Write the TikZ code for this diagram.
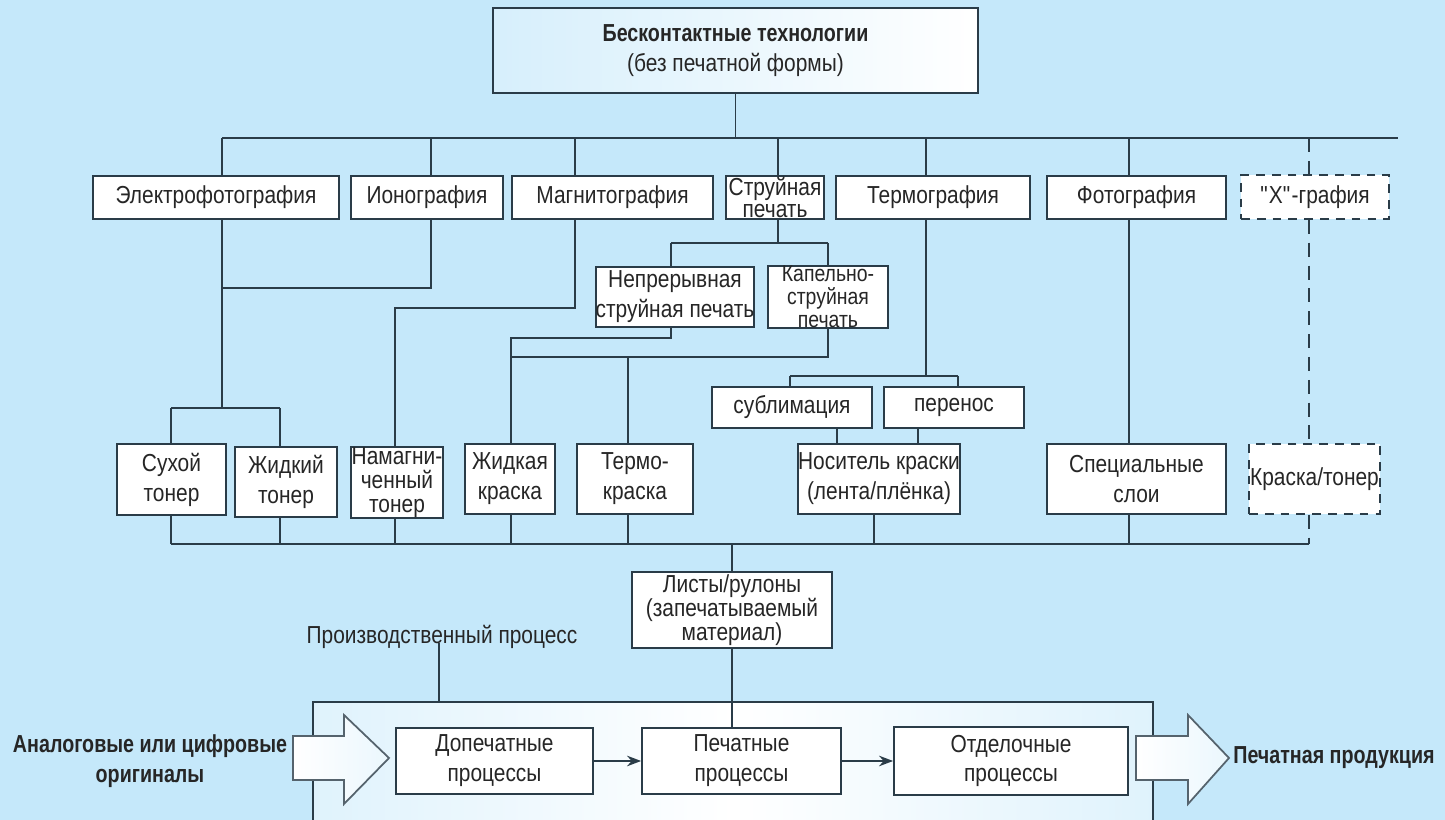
\documentclass[tikz,border=0pt]{standalone}
\usepackage{fontspec}
\setmainfont[FakeStretch=0.85,BoldFeatures={FakeStretch=0.8}]{Liberation Sans}
\usetikzlibrary{arrows.meta}
\definecolor{bg}{RGB}{197,232,250}
\definecolor{ln}{HTML}{2A3C48}
\definecolor{tx}{HTML}{262626}
\begin{document}
\begin{tikzpicture}[x=0.02cm,y=-0.02cm,
  wire/.style={draw=ln,line width=1pt},
  dwire/.style={wire,dash pattern=on 8pt off 5pt},
  box/.style={draw=ln,fill=white,line width=1pt,inner sep=0pt,align=center,text=tx,font=\fontsize{14}{17}\selectfont},
  dbox/.style={box,dash pattern=on 5pt off 4pt},
  wh/.style 2 args={minimum width=#1*0.02cm,minimum height=#2*0.02cm},
  lbl/.style={inner sep=0pt,align=center,text=tx,font=\fontsize{14}{17}\selectfont},
  blockarrow/.style={draw=ln!80,line width=1pt,left color=white,right color=bg!35!white}]
\useasboundingbox (0,0) rectangle (1445,820);
\clip (0,0) rectangle (1445,820);
\fill[bg] (0,0) rectangle (1445,820);

% ---- top
\node[box,wh={485}{85},left color=bg!70!white,right color=white] (top) at (735.5,50.5)
  {\textbf{Бесконтактные технологии}\\(без печатной формы)};

% ---- first row
\node[box,wh={246}{43}] (elf) at (216,197.5) {Электрофотография};
\node[box,wh={152}{43}] (ion) at (427,197.5) {Ионография};
\node[box,wh={201}{43}] (mag) at (612.5,197.5) {Магнитография};
\node[box,wh={98}{43},font=\fontsize{14}{13}\selectfont] (jet) at (775,197.5) {Струйная\\печать};
\node[box,wh={194}{43}] (therm) at (933,197.5) {Термография};
\node[box,wh={179}{43}] (photo) at (1136.5,197.5) {Фотография};
\node[dbox,wh={148}{44}] (xg) at (1315,197) {\textquotedbl X\textquotedbl-графия};

% ---- intermediate
\node[box,wh={156}{60}] (cont) at (675,297) {Непрерывная\\струйная печать};
\node[box,wh={120}{60},font=\fontsize{13}{13}\selectfont] (drop) at (828,297) {Капельно-\\струйная\\печать};
\node[box,wh={160}{41}] (subl) at (792,407.5) {сублимация};
\node[box,wh={140}{41}] (trans) at (954,407.5) {перенос};

% ---- bottom row
\node[box,wh={109}{71}] (dry) at (171.5,479.5) {Сухой\\тонер};
\node[box,wh={102}{70}] (liqt) at (286,482) {Жидкий\\тонер};
\node[box,wh={92}{71},font=\fontsize{14}{13.5}\selectfont] (magt) at (397,482.5) {Намагни-\\ченный\\тонер};
\node[box,wh={90}{70}] (liqi) at (510,479) {Жидкая\\краска};
\node[box,wh={116}{70}] (thermi) at (635,479) {Термо-\\краска};
\node[box,wh={162}{70}] (carrier) at (879,479) {Носитель краски\\(лента/плёнка)};
\node[box,wh={179}{70}] (spec) at (1136.5,479) {Специальные\\слои};
\node[dbox,wh={131}{70}] (ink) at (1314.5,479) {Краска/тонер};

% ---- sheets
\node[box,wh={200}{76},font=\fontsize{14}{13.5}\selectfont] (sheets) at (732,610) {Листы/рулоны\\(запечатываемый\\материал)};

% ---- production process
\node[draw=ln,line width=1pt,left color=bg!55!white,right color=bg!55!white,middle color=white,wh={840}{150},inner sep=0pt] (big) at (733,777) {};
\node[lbl] (prodlbl) at (442,637) {Производственный процесс};
\node[box,wh={197}{66}] (pre) at (494.5,761) {Допечатные\\процессы};
\node[box,wh={199}{66}] (print) at (741.5,761) {Печатные\\процессы};
\node[box,wh={234}{68}] (fin) at (1011,761) {Отделочные\\процессы};

\path[blockarrow] (293,736) -- (344,736) -- (344,715) -- (389,758) -- (344,804) -- (344,780) -- (293,780) -- cycle;
\path[blockarrow] (1136,736) -- (1188,736) -- (1188,715) -- (1229,758) -- (1188,804) -- (1188,780) -- (1136,780) -- cycle;

\node[lbl,font=\fontsize{14}{17}\selectfont\bfseries] (orig) at (150,761) {Аналоговые или цифровые\\оригиналы};
\node[lbl,font=\fontsize{14}{17}\selectfont\bfseries,anchor=west] (prod) at (1233,758) {Печатная продукция};

% ---- coordinates
\coordinate (busL) at (222,138);
\coordinate (busR) at (1398,138);
\coordinate (bIon) at (431,138);
\coordinate (bMag) at (575,138);
\coordinate (bJet) at (778,138);
\coordinate (bTh) at (926,138);
\coordinate (bPh) at (1129,138);
\coordinate (bX) at (1309,138);
\coordinate (eJ) at (222,288);
\coordinate (iJ) at (431,288);
\coordinate (tJ) at (222,408);
\coordinate (tL) at (171,408);
\coordinate (tR) at (280,408);
\coordinate (mJ) at (575,308);
\coordinate (mL) at (395,308);
\coordinate (sJ) at (778,243);
\coordinate (sL) at (671,243);
\coordinate (sR) at (828,243);
\coordinate (cJ) at (671,338);
\coordinate (cL) at (511,338);
\coordinate (dJ) at (828,357);
\coordinate (dL) at (511,357);
\coordinate (dM) at (628,357);
\coordinate (thJ) at (926,376);
\coordinate (thL) at (790,376);
\coordinate (thR) at (958,376);
\coordinate (xs) at (837,0);
\coordinate (xt) at (918,0);
\coordinate (lowL) at (171,544);
\coordinate (lowR) at (1309,544);
\coordinate (lowS) at (280,544);
\coordinate (lowM) at (395,544);
\coordinate (lowI) at (511,544);
\coordinate (lowT) at (628,544);
\coordinate (lowC) at (874,544);
\coordinate (lowP) at (1129,544);
\coordinate (lowMid) at (732,544);
\coordinate (pl) at (439,0);

% ---- connectors
\draw[wire] (top.south) -- (top.south |- busL);
\draw[wire] (busL) -- (busR);
\draw[wire] (busL) -- (elf.north -| busL);
\draw[wire] (bIon) -- (ion.north -| bIon);
\draw[wire] (bMag) -- (mag.north -| bMag);
\draw[wire] (bJet) -- (jet.north -| bJet);
\draw[wire] (bTh) -- (therm.north -| bTh);
\draw[wire] (bPh) -- (photo.north -| bPh);
\draw[dwire] (bX) -- (xg.north -| bX);

\draw[wire] (elf.south -| eJ) -- (tJ);
\draw[wire] (ion.south -| iJ) -- (iJ) -- (eJ);
\draw[wire] (tL) -- (tR);
\draw[wire] (tL) -- (dry.north -| tL);
\draw[wire] (tR) -- (liqt.north -| tR);

\draw[wire] (mag.south -| mJ) -- (mJ) -- (mL) -- (magt.north -| mL);

\draw[wire] (jet.south -| sJ) -- (sJ);
\draw[wire] (sL) -- (sR);
\draw[wire] (sL) -- (cont.north -| sL);
\draw[wire] (sR) -- (drop.north -| sR);

\draw[wire] (cont.south -| cJ) -- (cJ) -- (cL) -- (liqi.north -| cL);
\draw[wire] (drop.south -| dJ) -- (dJ) -- (dL);
\draw[wire] (dM) -- (thermi.north -| dM);

\draw[wire] (therm.south -| thJ) -- (thJ);
\draw[wire] (thL) -- (thR);
\draw[wire] (thL) -- (subl.north -| thL);
\draw[wire] (thR) -- (trans.north -| thR);
\draw[wire] (subl.south -| xs) -- (carrier.north -| xs);
\draw[wire] (trans.south -| xt) -- (carrier.north -| xt);

\draw[wire] (photo.south -| bPh) -- (spec.north -| bPh);
\draw[dwire] (xg.south -| bX) -- (ink.north -| bX);

\draw[wire] (lowL) -- (lowR);
\draw[wire] (dry.south -| lowL) -- (lowL);
\draw[wire] (liqt.south -| lowS) -- (lowS);
\draw[wire] (magt.south -| lowM) -- (lowM);
\draw[wire] (liqi.south -| lowI) -- (lowI);
\draw[wire] (thermi.south -| lowT) -- (lowT);
\draw[wire] (carrier.south -| lowC) -- (lowC);
\draw[wire] (spec.south -| lowP) -- (lowP);
\draw[dwire] (ink.south -| lowR) -- (lowR);

\draw[wire] (lowMid) -- (sheets.north -| lowMid);
\draw[wire] (sheets.south -| lowMid) -- (print.north -| lowMid);
\draw[wire] (prodlbl.south -| pl) ++(0,-6) -- (big.north -| pl);

\draw[wire,-{Stealth[length=8pt,width=6pt]}] (pre.east) -- (print.west);
\draw[wire,-{Stealth[length=8pt,width=6pt]}] (print.east) -- (fin.west);
\end{tikzpicture}
\end{document}
